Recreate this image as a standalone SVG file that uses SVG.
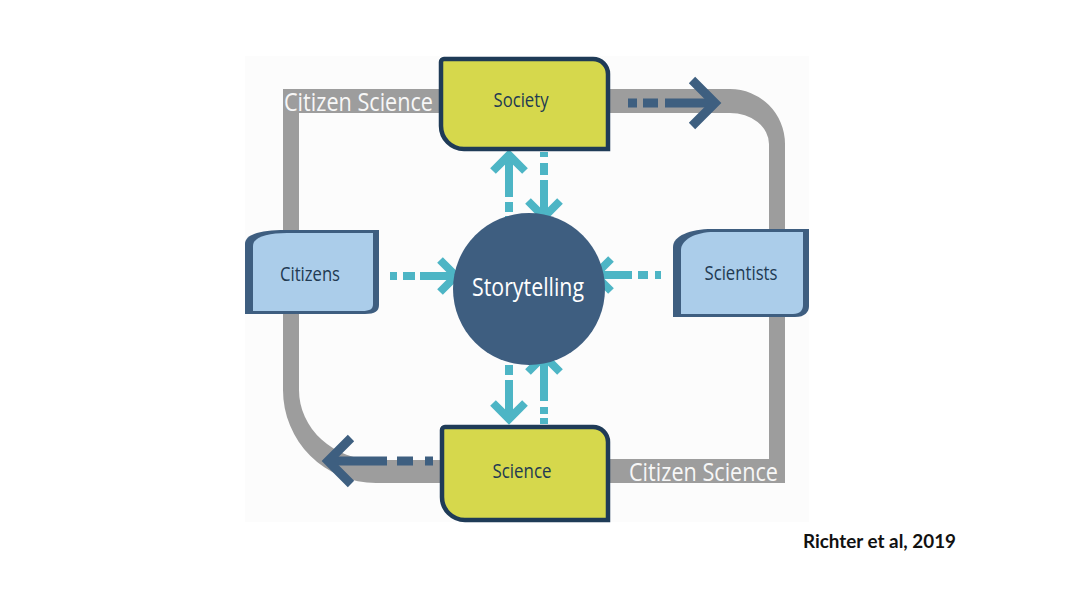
<svg xmlns="http://www.w3.org/2000/svg" width="1074" height="597" viewBox="0 0 1074 597">
<style>
.bar{fill:#9d9d9d}
.cs{font-family:"Open Sans","Liberation Sans",sans-serif;font-size:25px;fill:#f7f7f7}
.yb{fill:#d6d84c;stroke:#1f3b57;stroke-width:4.5}
.bo{fill:#3e5e80}
.bi{fill:#abcdea}
.lbl{font-family:"Open Sans","Liberation Sans",sans-serif;font-size:20px;fill:#223a52;text-anchor:middle}
.cy{fill:none;stroke:#4db5c5;stroke-width:8}
.dk{fill:none;stroke:#3e5f80;stroke-width:9}
</style>
<rect width="1074" height="597" fill="#ffffff"/>
<rect x="245" y="56" width="564" height="466" fill="#fcfcfc"/>

<g id="connectors">
  <!-- gray citizen science loop -->
  <rect class="bar" x="283" y="89" width="160" height="24"/>
  <rect class="bar" x="283" y="89" width="16" height="302"/>
  <path class="bar" d="M283,390 A93,93 0 0 0 376,483 L443,483 L443,460 L376,460 A77,70 0 0 1 299,390 Z"/>
  <path class="bar" d="M607,89 L730,89 A55,55 0 0 1 785,144 L769,144 A39,31 0 0 0 730,113 L607,113 Z"/>
  <rect class="bar" x="769" y="143" width="16" height="340"/>
  <rect class="bar" x="607" y="459" width="178" height="24"/>
  <text class="cs" x="284" y="111" textLength="149" lengthAdjust="spacingAndGlyphs">Citizen Science</text>
  <text class="cs" x="629" y="481" textLength="149" lengthAdjust="spacingAndGlyphs">Citizen Science</text>

  <!-- dark arrows on the loop -->
  <path class="dk" d="M628,103 H637 M643,103 H658 M665,103 H713"/>
  <polyline class="dk" points="692,80 715,103 692,126"/>
  <path class="dk" d="M433,461 H425 M413,461 H397 M387,461 H329"/>
  <polyline class="dk" points="351,438 328,461 351,484"/>

  <!-- cyan arrows -->
  <path class="cy" d="M390,276 H397 M403,276 H415 M420,276 H453"/>
  <polyline class="cy" points="440,260 456,276 440,292"/>
  <path class="cy" d="M661,275 H655 M648,275 H638 M632,275 H599"/>
  <polyline class="cy" points="611,259 595,275 611,291"/>
  <path class="cy" d="M509,222 V216 M509,212 V202 M509,197 V157"/>
  <polyline class="cy" points="493,171 509,155 525,171"/>
  <path class="cy" d="M544,152 V157 M544,163 V175 M544,180 V214"/>
  <polyline class="cy" points="528,201 544,217 560,201"/>
  <path class="cy" d="M509,353 V358 M509,365 V375 M509,380 V417"/>
  <polyline class="cy" points="493,403 509,419 525,403"/>
  <path class="cy" d="M544,424 V418 M544,414 V407 M544,401 V358"/>
  <polyline class="cy" points="528,372 544,356 560,372"/>
</g>

<g id="society">
  <path class="yb" d="M444,59 L593,59 A15,15 0 0 1 608,74 L608,149 L464,149 A23,23 0 0 1 441,126 L441,62 A3,3 0 0 1 444,59 Z"/>
  <text class="lbl" x="521" y="107" textLength="55" lengthAdjust="spacingAndGlyphs">Society</text>
</g>

<g id="science">
  <path class="yb" d="M445,427 L593,427 A15,15 0 0 1 608,442 L608,520 L465,520 A23,23 0 0 1 442,497 L442,430 A3,3 0 0 1 445,427 Z"/>
  <text class="lbl" x="522" y="478" textLength="59" lengthAdjust="spacingAndGlyphs">Science</text>
</g>

<g id="citizens">
  <path class="bo" d="M245,244 C245,234 262,230 285,230 L379,230 L379,305 C379,311 375,314 365,314 L245,314 Z"/>
  <path class="bi" d="M253,246 C253,237 268,233 287,233 L373,233 L373,304 C373,309 370,311 362,311 L253,311 Z"/>
  <text class="lbl" x="310" y="281" textLength="60" lengthAdjust="spacingAndGlyphs">Citizens</text>
</g>

<g id="scientists">
  <path class="bo" d="M673,247 C673,236 690,229 712,229 L809,229 L809,306 C809,312 805,317 795,317 L673,317 Z"/>
  <path class="bi" d="M681,250 C681,240 695,232 714,232 L803,232 L803,305 C803,310 800,314 793,314 L681,314 Z"/>
  <text class="lbl" x="741" y="280" textLength="73" lengthAdjust="spacingAndGlyphs">Scientists</text>
</g>

<g id="storytelling">
  <circle cx="529" cy="289" r="76" fill="#3e5e80"/>
  <text x="472" y="296" font-family="Open Sans, Liberation Sans, sans-serif" font-size="25" fill="#ffffff" textLength="112" lengthAdjust="spacingAndGlyphs">Storytelling</text>
</g>

<g id="citation">
  <text x="803" y="548" font-family="Lato, Liberation Sans, sans-serif" font-weight="bold" font-size="18" fill="#111111" textLength="153" lengthAdjust="spacingAndGlyphs">Richter et al, 2019</text>
</g>
</svg>
